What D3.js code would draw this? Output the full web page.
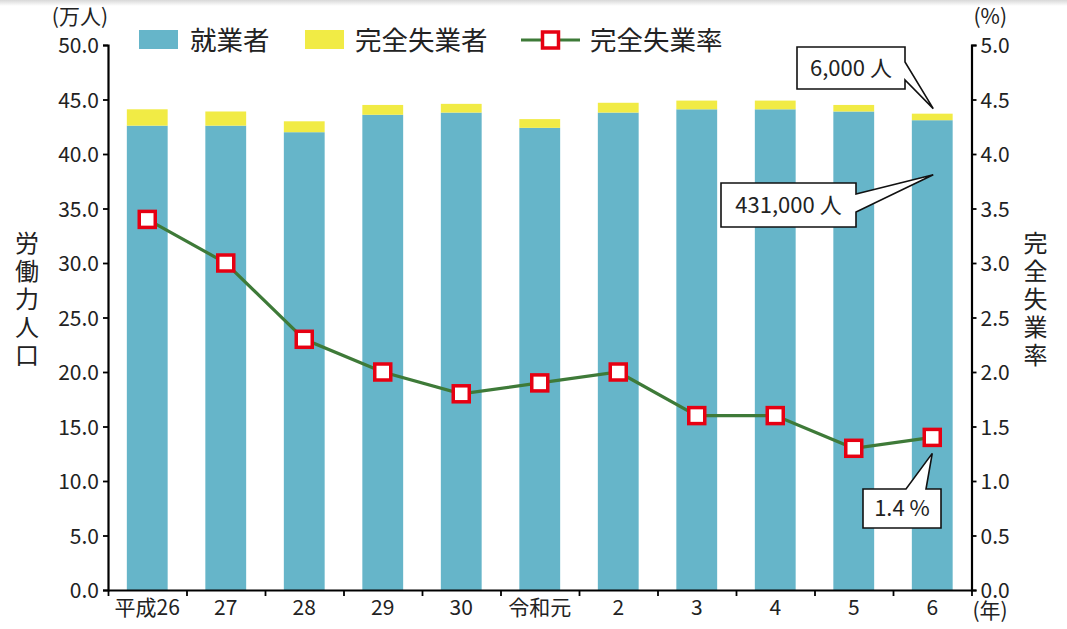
<!DOCTYPE html>
<html>
<head>
<meta charset="utf-8">
<script src="https://cdn.jsdelivr.net/npm/d3@7"></script>
<style>
  body { margin: 0; background: #fff; }
  svg text { font-family: "Noto Sans CJK JP", "Noto Sans", sans-serif; fill: #222; }
</style>
</head>
<body>
<div id="chart"></div>
<script>
// Data (万人, %)
const years = ["平成26", "27", "28", "29", "30", "令和元", "2", "3", "4", "5", "6"];
const employed = [42.6, 42.6, 42.0, 43.6, 43.8, 42.4, 43.8, 44.1, 44.1, 43.9, 43.1];
const unemployed = [1.5, 1.3, 1.0, 0.9, 0.8, 0.8, 0.9, 0.8, 0.8, 0.6, 0.6];
const rate = [3.4, 3.0, 2.3, 2.0, 1.8, 1.9, 2.0, 1.6, 1.6, 1.3, 1.4];
const leftTicks = [0, 5, 10, 15, 20, 25, 30, 35, 40, 45, 50];
const rightTicks = [0, 0.5, 1, 1.5, 2, 2.5, 3, 3.5, 4, 4.5, 5];

const W = 1067, H = 629;
const margin = { top: 45, right: 95.5, bottom: 39, left: 108 };
const width = W - margin.left - margin.right;
const height = H - margin.top - margin.bottom;

const colEmp = "#66b5c9", colUnemp = "#f1eb45", colLine = "#3e7a38", colMark = "#e60012";

const svg = d3.select("#chart").append("svg")
    .attr("width", W).attr("height", H);

// faint shadow at the top edge
const grad = svg.append("defs").append("linearGradient")
    .attr("id", "topShade").attr("x1", 0).attr("y1", 0).attr("x2", 0).attr("y2", 1);
grad.append("stop").attr("offset", 0).attr("stop-color", "#d8d8d8");
grad.append("stop").attr("offset", 1).attr("stop-color", "#fff");
svg.append("rect").attr("width", W).attr("height", 6).attr("fill", "url(#topShade)");

const g = svg.append("g").attr("transform", `translate(${margin.left},${margin.top})`);

// Scales
const x = d3.scaleBand().domain(years).range([0, width]).paddingInner(0.48).paddingOuter(0.24);
const xEdge = d3.scaleLinear().domain([0, years.length]).range([0, width]);
const yL = d3.scaleLinear().domain([0, 50]).range([height, 0]);
const yR = d3.scaleLinear().domain([0, 5]).range([height, 0]);

// Bars
const rows = years.map((y, i) => ({ year: y, emp: employed[i], un: unemployed[i], rate: rate[i] }));
g.selectAll(".emp").data(rows).enter().append("rect")
    .attr("class", "emp")
    .attr("x", d => x(d.year)).attr("width", x.bandwidth())
    .attr("y", d => yL(d.emp)).attr("height", d => height - yL(d.emp))
    .attr("fill", colEmp);
g.selectAll(".un").data(rows).enter().append("rect")
    .attr("class", "un")
    .attr("x", d => x(d.year)).attr("width", x.bandwidth())
    .attr("y", d => yL(d.emp + d.un)).attr("height", d => yL(d.emp) - yL(d.emp + d.un))
    .attr("fill", colUnemp);

// Axes
const fontSize = 21;
const leftAxis = g.append("g")
    .call(d3.axisLeft(yL).tickValues(leftTicks).tickFormat(d3.format(".1f")).tickSize(5).tickPadding(4));
const rightAxis = g.append("g").attr("transform", `translate(${width},0)`)
    .call(d3.axisRight(yR).tickValues(rightTicks).tickFormat(d3.format(".1f")).tickSize(5).tickPadding(4));
const bottomLabels = g.append("g").attr("transform", `translate(0,${height})`)
    .call(d3.axisBottom(x).tickSize(0).tickPadding(10));
const bottomTicks = g.append("g").attr("transform", `translate(0,${height})`)
    .call(d3.axisBottom(xEdge).tickValues(d3.range(0, years.length + 1)).tickFormat("").tickSize(6).tickSizeOuter(0));

[leftAxis, rightAxis, bottomLabels, bottomTicks].forEach(a => {
    a.select(".domain").attr("stroke", "#000").attr("stroke-width", 2.2);
    a.selectAll(".tick line").attr("stroke", "#000").attr("stroke-width", 1.8);
    a.selectAll("text").attr("font-size", fontSize).attr("fill", "#222")
        .style("font-family", '"Noto Sans CJK JP", sans-serif');
});
bottomLabels.select(".domain").remove();
leftAxis.selectAll(".tick text").attr("dy", "0.36em");
rightAxis.selectAll(".tick text").attr("dy", "0.36em");

// Unit labels
g.append("text").attr("x", 0).attr("y", -21).attr("text-anchor", "end")
    .attr("font-size", 21).text("(万人)");
g.append("text").attr("x", width + 2).attr("y", -21).attr("text-anchor", "start")
    .attr("font-size", 21).text("(%)");
g.append("text").attr("x", width + 1).attr("y", height + 28).attr("text-anchor", "start")
    .attr("font-size", 21).text("(年)");

// Vertical axis titles
function vertical(text, cx, top) {
    const t = g.append("text").attr("text-anchor", "middle").attr("font-size", 24);
    Array.from(text).forEach((ch, i) => {
        t.append("tspan").attr("x", cx).attr("y", top + i * 28).text(ch);
    });
}
vertical("労働力人口", -81, 207);
vertical("完全失業率", width + 64, 207);

// Line + markers
const line = d3.line().x(d => x(d.year) + x.bandwidth() / 2).y(d => yR(d.rate));
g.append("path").datum(rows)
    .attr("fill", "none").attr("stroke", colLine).attr("stroke-width", 3.2).attr("d", line);
const ms = 16;
g.selectAll(".mark").data(rows).enter().append("rect")
    .attr("x", d => x(d.year) + x.bandwidth() / 2 - ms / 2)
    .attr("y", d => yR(d.rate) - ms / 2)
    .attr("width", ms).attr("height", ms)
    .attr("fill", "#fff").attr("stroke", colMark).attr("stroke-width", 3.5);

// Legend
const lg = svg.append("g").attr("transform", "translate(139,40)");
lg.append("rect").attr("x", 0).attr("y", -10).attr("width", 39).attr("height", 19).attr("fill", colEmp);
lg.append("text").attr("x", 51).attr("y", 0).attr("dy", "0.36em").attr("font-size", 26.5).text("就業者");
lg.append("rect").attr("x", 166).attr("y", -10).attr("width", 39).attr("height", 19).attr("fill", colUnemp);
lg.append("text").attr("x", 216).attr("y", 0).attr("dy", "0.36em").attr("font-size", 26.5).text("完全失業者");
lg.append("line").attr("x1", 382).attr("x2", 441).attr("y1", 0).attr("y2", 0)
    .attr("stroke", colLine).attr("stroke-width", 3.2);
lg.append("rect").attr("x", 411.5 - ms / 2).attr("y", -ms / 2).attr("width", ms).attr("height", ms)
    .attr("fill", "#fff").attr("stroke", colMark).attr("stroke-width", 3.5);
lg.append("text").attr("x", 451).attr("y", 0).attr("dy", "0.36em").attr("font-size", 26.5).text("完全失業率");

// Callouts (box in page coords relative to plot, tip from data)
const last = rows[rows.length - 1];
const lastX = x(last.year) + x.bandwidth() / 2;
function callout(box, side, b1, b2, tip, label) {
    const { bx, by, bw, bh } = box;
    let p;
    if (side === "right") {
        p = `M${bx},${by}H${bx + bw}V${b1}L${tip[0]},${tip[1]}L${bx + bw},${b2}V${by + bh}H${bx}Z`;
    } else {
        p = `M${bx},${by}H${b1}L${tip[0]},${tip[1]}L${b2},${by}H${bx + bw}V${by + bh}H${bx}Z`;
    }
    g.append("path").attr("d", p).attr("fill", "#fff").attr("stroke", "#111")
        .attr("stroke-width", 1.6).attr("stroke-linejoin", "miter");
    g.append("text").attr("x", bx + bw / 2).attr("y", by + bh / 2).attr("dy", "0.36em")
        .attr("text-anchor", "middle").attr("font-size", 22).text(label);
}
const boxU = { bx: 797 - margin.left, by: 47 - margin.top, bw: 108, bh: 42 };
callout(boxU, "right", boxU.by + 15, boxU.by + 33,
    [lastX + 1, yL(last.emp + last.un) - 5], "6,000 人");
const boxE = { bx: 721 - margin.left, by: 183 - margin.top, bw: 135, bh: 44 };
callout(boxE, "right", boxE.by + 11, boxE.by + 29,
    [lastX + 1, yL(38.1)], "431,000 人");
const boxR = { bx: 863 - margin.left, by: 489 - margin.top, bw: 78, bh: 39 };
callout(boxR, "top", boxR.bx + 43, boxR.bx + 63,
    [lastX, yR(last.rate) + 16], "1.4 %");
</script>
</body>
</html>
